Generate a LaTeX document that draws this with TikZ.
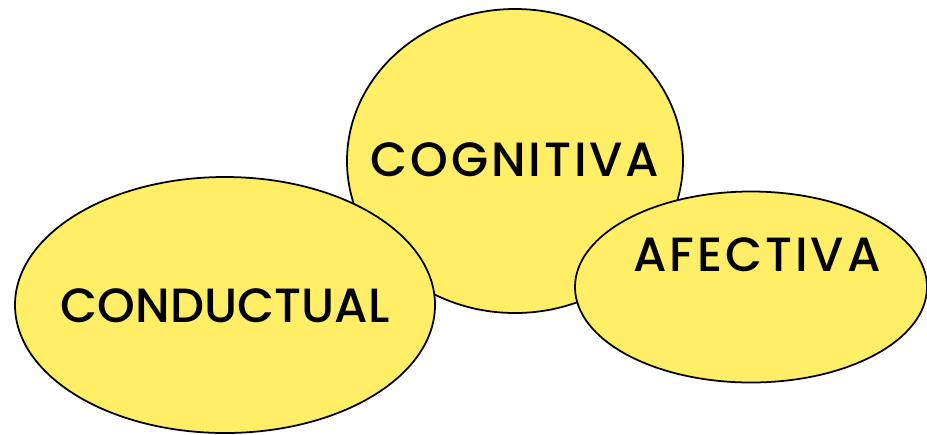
\documentclass[tikz,border=0pt]{standalone}
\usepackage{fontspec}
\setmainfont{Poppins}[BoldFont={Poppins Medium}]
\usetikzlibrary{shapes.geometric,positioning}
\definecolor{globo}{RGB}{255,238,102}
\tikzset{
  burbuja/.style={ellipse,draw,line width=1.5pt,fill=globo,inner sep=0pt},
  rotulo/.style={font=\fontsize{41}{41}\selectfont\bfseries,inner sep=0pt},
  abierto/.style={rotulo,font=\fontsize{41}{41}\selectfont\bfseries\addfontfeature{LetterSpace=6}}
}
\begin{document}
\begin{tikzpicture}[x=0.03cm,y=-0.03cm]
  \useasboundingbox (0,0) rectangle (927,434);
  % los tres globos
  \node[burbuja,minimum width=10.08cm,minimum height=9.12cm] (cog) at (515,161) {};
  \node[burbuja,minimum width=12.6cm,minimum height=7.68cm] (cond) at (225,305) {};
  \node[burbuja,minimum width=10.56cm,minimum height=5.73cm] (afec) at (751,287) {};
  % textos
  \node[abierto] (tcog) at (515,160) {COGNITIVA};
  \node[rotulo] (tcond) at (225,306) {CONDUCTUAL};
  \node[abierto] (tafec) at (757,255) {AFECTIVA};
\end{tikzpicture}
\end{document}
